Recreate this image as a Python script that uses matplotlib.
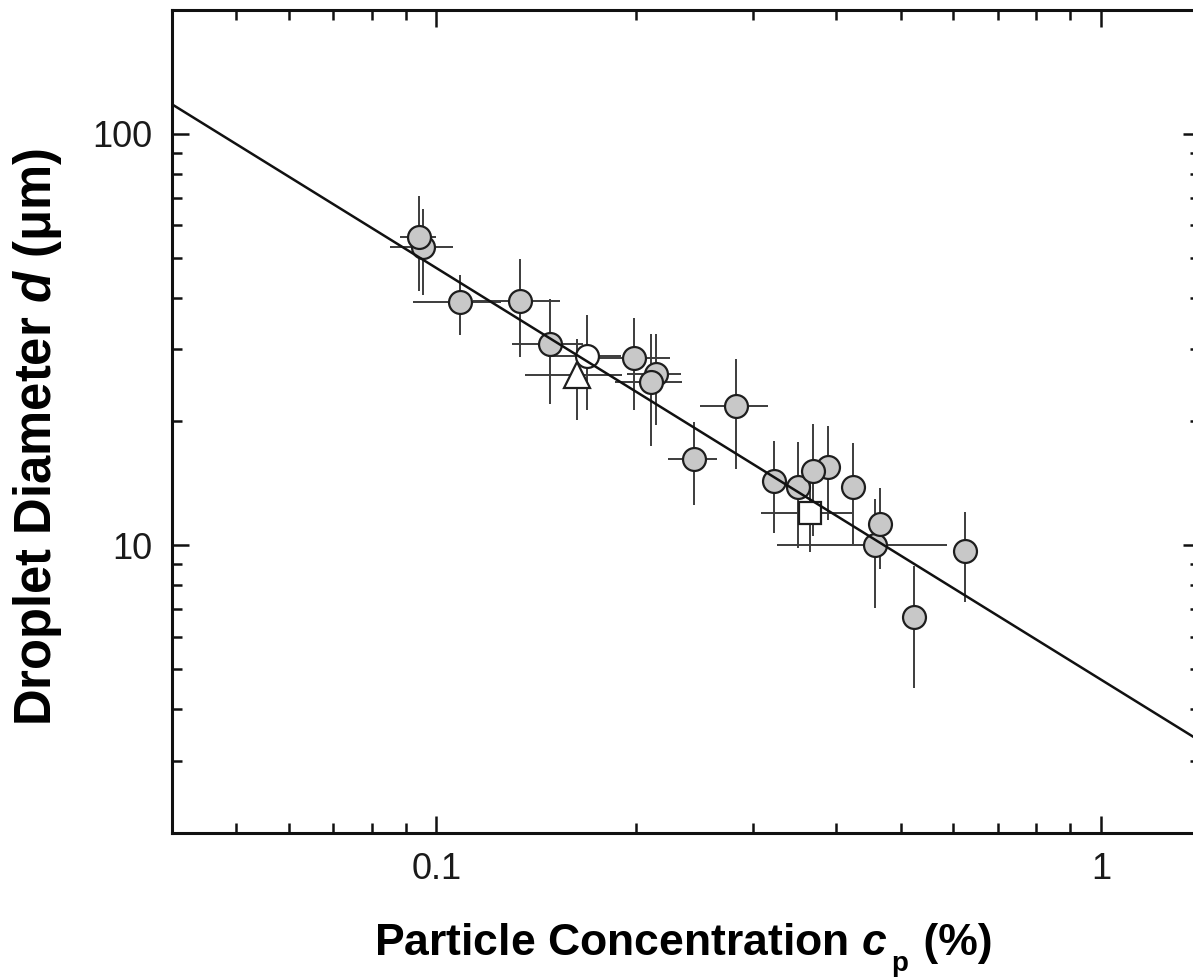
import numpy as np
import matplotlib
matplotlib.use("Agg")
import matplotlib.pyplot as plt
from matplotlib.ticker import FixedLocator, LogLocator, NullFormatter, FixedFormatter

plt.rcParams['font.family'] = ['Liberation Sans', 'DejaVu Sans']
plt.rcParams['mathtext.fontset'] = 'custom'
plt.rcParams['mathtext.rm'] = 'Liberation Sans'
plt.rcParams['mathtext.it'] = 'Liberation Sans:italic'
plt.rcParams['mathtext.bf'] = 'Liberation Sans:bold'
plt.rcParams['mathtext.bfit'] = 'Liberation Sans:bold:italic'

# ---- data: gray circles (particle concentration %, droplet diameter um, errors)
circ_x  = [0.0955, 0.094, 0.1087, 0.1335, 0.148, 0.198, 0.2137, 0.210, 0.282, 0.244,
           0.322, 0.3505, 0.389, 0.369, 0.424, 0.4567, 0.465, 0.624, 0.5234]
circ_y  = [53.0, 56.0, 39.0, 39.2, 30.9, 28.5, 26.1, 25.0, 21.8, 16.2,
           14.3, 13.85, 15.5, 15.15, 13.9, 10.0, 11.25, 9.67, 6.7]
circ_xe = [0.0105, 0.006, 0.0164, 0.020, 0.018, 0.027, 0.020, 0.024, 0.033, 0.0205,
           0.010, 0.006, 0.0, 0.0, 0.0, 0.131, 0.010, 0.010, 0.010]
circ_ye = [12.5, 14.5, 6.5, 10.5, 8.8, 7.2, 6.5, 7.6, 6.5, 3.7,
           3.6, 4.0, 4.0, 4.6, 3.8, 2.95, 2.5, 2.4, 2.2]

# open circle
open_x, open_y, open_xe, open_ye = [0.1683], [28.8], [0.021], [7.5]
# triangle
tri_x, tri_y, tri_xe, tri_ye = [0.163], [26.0], [0.027], [5.8]
# square
sq_x, sq_y, sq_xe, sq_ye = [0.3645], [11.98], [0.057], [2.35]

# power-law fit d = K * c^n
fit_K = 4.72
fit_n = -1.0

x_major = [0.1, 1]
x_major_labels = ['0.1', '1']
y_major = [10, 100]
y_major_labels = ['10', '100']
xlim = (0.04, 1.41)
ylim = (2.0, 200.0)

fig = plt.figure(figsize=(11.93, 9.8), dpi=100)
ax = fig.add_axes([172/1193, 1-833/980, (1200-172)/1193, (833-10)/980])
ax.set_xscale('log')
ax.set_yscale('log')
ax.set_xlim(*xlim)
ax.set_ylim(*ylim)

ebkw = dict(fmt='none', ecolor='#3c3c3c', elinewidth=1.4, capsize=0, zorder=1)
ax.errorbar(circ_x, circ_y, xerr=circ_xe, yerr=circ_ye, **ebkw)
ax.errorbar(open_x, open_y, xerr=open_xe, yerr=open_ye, **ebkw)
ax.errorbar(tri_x, tri_y, xerr=tri_xe, yerr=tri_ye, **ebkw)
ax.errorbar(sq_x, sq_y, xerr=sq_xe, yerr=sq_ye, **ebkw)

mk = dict(linestyle='none', markeredgecolor='#1e1e1e', markeredgewidth=1.6, zorder=2)
for xi, yi in zip(circ_x, circ_y):
    ax.plot([xi], [yi], marker='o', markersize=16.5, markerfacecolor='#c8c8c8', **mk)
ax.plot(open_x, open_y, marker='o', markersize=16.5, markerfacecolor='white', **mk)
ax.plot(tri_x, tri_y, marker='^', markersize=19, markerfacecolor='white', **mk)
ax.plot(sq_x, sq_y, marker='s', markersize=15.5, markerfacecolor='white', **mk)

fx = np.array(xlim)
ax.plot(fx, fit_K * fx**fit_n, color='#111111', lw=1.8, zorder=3)

# ticks
ax.xaxis.set_major_locator(FixedLocator(x_major))
ax.xaxis.set_major_formatter(FixedFormatter(x_major_labels))
ax.xaxis.set_minor_locator(LogLocator(base=10, subs=np.arange(2, 10)))
ax.xaxis.set_minor_formatter(NullFormatter())
ax.yaxis.set_major_locator(FixedLocator(y_major))
ax.yaxis.set_major_formatter(FixedFormatter(y_major_labels))
ax.yaxis.set_minor_locator(LogLocator(base=10, subs=np.arange(2, 10)))
ax.yaxis.set_minor_formatter(NullFormatter())

ax.tick_params(which='both', direction='in', top=True, right=True, width=1.8, color='#111111')
ax.tick_params(which='major', length=12.5, labelsize=26, pad=14, labelcolor='#1a1a1a')
ax.tick_params(which='minor', length=7)
for s in ax.spines.values():
    s.set_linewidth(2.2)
    s.set_color('#111111')

fig.text(38/1193, 1-437/980, r'Droplet Diameter $\mathbfit{d}$ (μm)', rotation=90,
         ha='center', va='center', fontsize=36.5, fontweight='bold')

# x label built in pieces so the subscript sits low, as in the reference
t1 = fig.text(374/1193, 1-955/980, r'Particle Concentration $\mathbfit{c}$',
              ha='left', va='baseline', fontsize=32, fontweight='bold')
tp = fig.text(0, 0, '', fontsize=1)
tp = ax.annotate('p', xy=(1, 1-971/980), xycoords=(t1, 'figure fraction'),
                 xytext=(3, 0), textcoords='offset points', ha='left', va='baseline',
                 fontsize=20, fontweight='bold', annotation_clip=False)
ax.annotate(' (%)', xy=(1, 1-955/980), xycoords=(tp, 'figure fraction'),
            xytext=(2, 0), textcoords='offset points', ha='left', va='baseline',
            fontsize=32, fontweight='bold', annotation_clip=False)

fig.savefig('out.png', dpi=100)
